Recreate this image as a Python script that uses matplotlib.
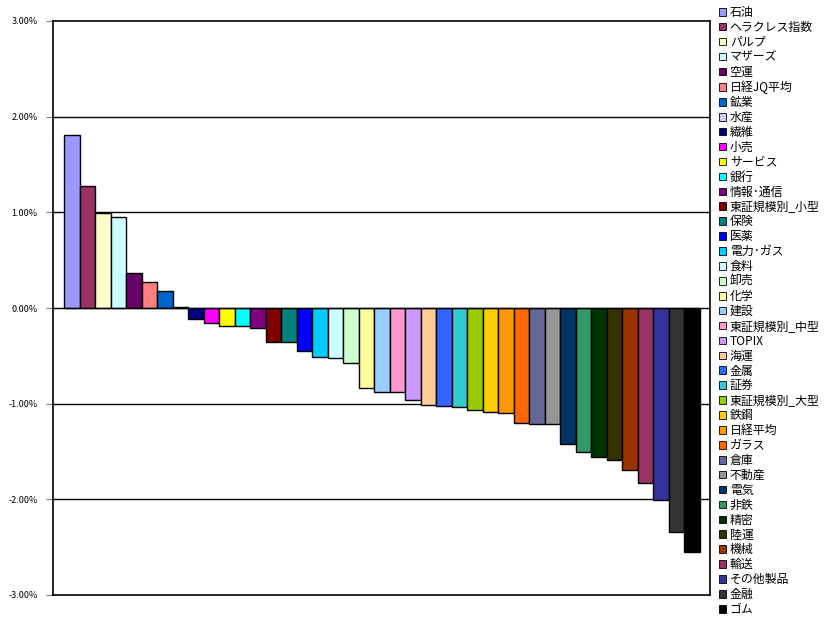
import matplotlib
matplotlib.use("Agg")
import matplotlib.pyplot as plt
from matplotlib.patches import Patch
from matplotlib.ticker import FuncFormatter

plt.rcParams['font.family'] = ['Noto Sans CJK JP', 'DejaVu Sans']

categories = ["石油", "ヘラクレス指数", "パルプ", "マザーズ", "空運", "日経JQ平均", "鉱業", "水産",
              "繊維", "小売", "サービス", "銀行", "情報･通信", "東証規模別_小型", "保険", "医薬",
              "電力･ガス", "食料", "卸売", "化学", "建設", "東証規模別_中型", "TOPIX", "海運",
              "金属", "証券", "東証規模別_大型", "鉄鋼", "日経平均", "ガラス", "倉庫", "不動産",
              "電気", "非鉄", "精密", "陸運", "機械", "輸送", "その他製品", "金融", "ゴム"]
values = [1.81, 1.28, 0.99, 0.95, 0.37, 0.27, 0.18, 0.01,
          -0.11, -0.16, -0.19, -0.19, -0.21, -0.36, -0.36, -0.45,
          -0.51, -0.52, -0.58, -0.84, -0.88, -0.88, -0.96, -1.01,
          -1.02, -1.04, -1.07, -1.09, -1.10, -1.20, -1.21, -1.21,
          -1.42, -1.50, -1.56, -1.59, -1.69, -1.83, -2.01, -2.34, -2.55]
colors = ["#9999FF", "#993366", "#FFFFCC", "#CCFFFF", "#660066", "#FF8080", "#0066CC", "#CCCCFF",
          "#000080", "#FF00FF", "#FFFF00", "#00FFFF", "#800080", "#800000", "#008080", "#0000FF",
          "#00CCFF", "#CCFFFF", "#CCFFCC", "#FFFF99", "#99CCFF", "#FF99CC", "#CC99FF", "#FFCC99",
          "#3366FF", "#33CCCC", "#99CC00", "#FFCC00", "#FF9900", "#FF6600", "#666699", "#969696",
          "#003366", "#339966", "#003300", "#333300", "#993300", "#993366", "#333399", "#333333",
          "#000000"]
yticks = [-3, -2, -1, 0, 1, 2, 3]

W, H = 832, 623
fig = plt.figure(figsize=(W / 100, H / 100), dpi=100)
ax = fig.add_axes([53 / W, (H - 595) / H, 657 / W, 574 / H])

x = list(range(len(values)))
ax.bar(x, values, width=1.0, color=colors, edgecolor="black", linewidth=1.0, zorder=3)

ax.set_ylim(-3, 3)
ax.set_xlim(-0.5 - 0.71, len(values) - 0.5 + 0.645)
ax.set_yticks(yticks)
ax.yaxis.set_major_formatter(FuncFormatter(lambda v, p: f"{v:.2f}%"))
ax.set_xticks([])
ax.tick_params(axis="y", length=5, width=0.8, color="#808080", labelsize=6.5, pad=6)
for t in [-2, -1, 1, 2]:
    ax.axhline(t, color="black", linewidth=1.0, zorder=1)
ax.axhline(0, color="black", linewidth=1.0, zorder=4)
for s in ax.spines.values():
    s.set_linewidth(1.2)
    s.set_color("black")

handles = [Patch(facecolor=c, edgecolor="black", linewidth=0.6) for c in colors]
leg = fig.legend(handles, categories, loc="upper left", bbox_to_anchor=(719 / W, 1 - 6 / H),
                 frameon=False, fontsize=8.6, handlelength=0.6, handleheight=0.6,
                 handletextpad=0.3, labelspacing=0.16, borderpad=0, borderaxespad=0)

fig.savefig("out.png", dpi=100)
